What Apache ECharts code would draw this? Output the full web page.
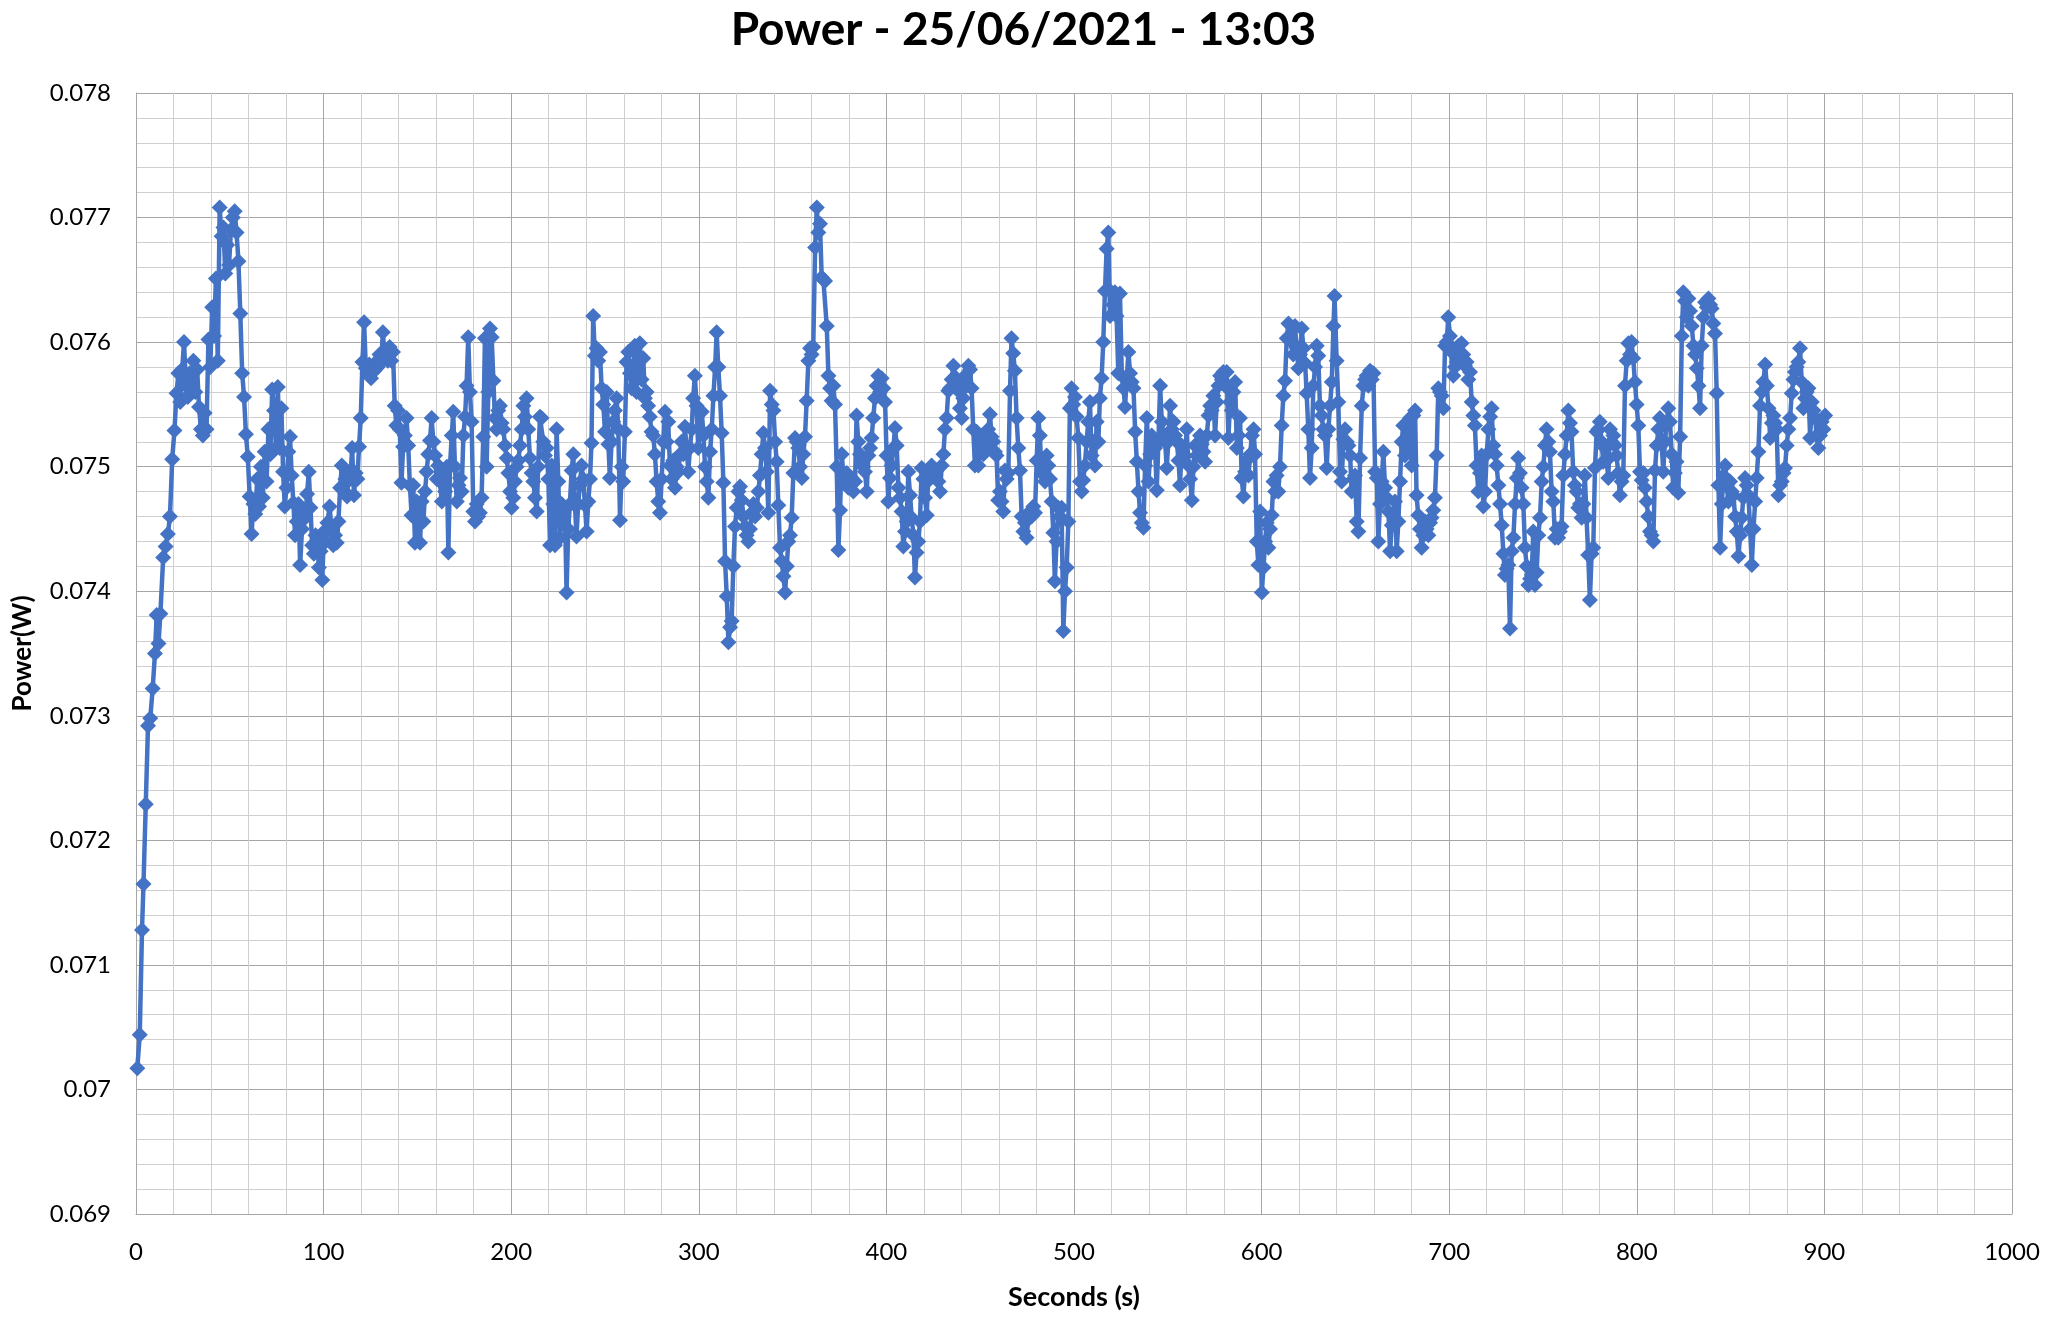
<!DOCTYPE html>
<html>
<head>
<meta charset="utf-8">
<title>Power - 25/06/2021 - 13:03</title>
<script src="https://cdn.jsdelivr.net/npm/echarts@6/dist/echarts.min.js"></script>
<style>
  html, body { margin: 0; padding: 0; background: #fff; }
  #chart { width: 2047px; height: 1318px; }
</style>
</head>
<body>
<div id="chart"></div>
<script>
const chartTitle = 'Power - 25/06/2021 - 13:03';
const xAxisName = 'Seconds (s)';
const yAxisName = 'Power(W)';
const xTicks = [0, 100, 200, 300, 400, 500, 600, 700, 800, 900, 1000];
const yTicks = [0.069, 0.070, 0.071, 0.072, 0.073, 0.074, 0.075, 0.076, 0.077, 0.078];

// [seconds, power in W]
const readings = [
  [0.7,0.07017],[2.0,0.07044],[3.2,0.07128],[4.0,0.07165],[5.2,0.07229],[6.4,0.07292],[7.6,0.07298],[8.9,0.07322],[10.1,0.07350],[11.0,0.07381],
  [12.0,0.07358],[13.0,0.07382],[14.5,0.07427],[15.8,0.07436],[17.0,0.07446],[18.1,0.07460],[19.3,0.07506],[20.5,0.07529],[21.6,0.07559],[22.6,0.07575],
  [23.6,0.07552],[24.6,0.07578],[25.6,0.07600],[26.6,0.07565],[27.6,0.07556],[28.6,0.07575],[29.6,0.07562],[30.6,0.07585],[31.6,0.07560],[32.6,0.07578],
  [33.6,0.07548],[34.6,0.07530],[35.6,0.07525],[36.6,0.07543],[37.6,0.07530],[38.6,0.07602],[39.6,0.07580],[40.6,0.07628],[41.6,0.07605],[42.6,0.07651],
  [43.6,0.07585],[44.6,0.07708],[45.6,0.07685],[46.6,0.07692],[47.6,0.07655],[48.6,0.07678],[49.6,0.07662],[50.6,0.07690],[51.6,0.07700],[52.6,0.07705],
  [53.6,0.07688],[54.6,0.07665],[55.6,0.07623],[56.6,0.07575],[57.6,0.07556],[58.6,0.07526],[59.6,0.07508],[60.6,0.07476],[61.6,0.07446],[62.6,0.07470],
  [63.6,0.07462],[64.6,0.07490],[65.6,0.07468],[66.6,0.07500],[67.6,0.07475],[68.6,0.07512],[69.6,0.07488],[70.6,0.07530],[71.6,0.07510],[72.6,0.07562],
  [73.6,0.07545],[74.6,0.07515],[75.6,0.07564],[76.6,0.07515],[77.5,0.07547],[78.4,0.07496],[79.3,0.07468],[80.2,0.07483],[81.2,0.07512],[82.1,0.07524],
  [83.0,0.07493],[83.9,0.07471],[84.8,0.07445],[85.7,0.07456],[86.6,0.07470],[87.5,0.07421],[88.5,0.07450],[89.4,0.07462],[90.3,0.07459],[91.2,0.07478],
  [92.1,0.07496],[93.0,0.07467],[93.9,0.07437],[94.8,0.07430],[95.7,0.07445],[96.6,0.07440],[97.5,0.07419],[98.4,0.07432],[99.3,0.07409],[100.2,0.07448],
  [101.1,0.07440],[102.0,0.07455],[103.2,0.07468],[104.2,0.07450],[105.1,0.07437],[106.1,0.07445],[107.0,0.07439],[107.9,0.07456],[108.8,0.07483],[109.7,0.07501],
  [110.6,0.07481],[111.6,0.07490],[112.5,0.07476],[113.4,0.07495],[114.3,0.07490],[115.2,0.07515],[116.2,0.07477],[117.1,0.07495],[118.0,0.07490],[118.9,0.07516],
  [119.8,0.07539],[120.7,0.07584],[121.6,0.07616],[122.5,0.07579],[123.4,0.07575],[124.3,0.07582],[125.3,0.07571],[126.2,0.07578],[127.1,0.07577],[128.0,0.07584],
  [128.9,0.07580],[129.8,0.07590],[130.7,0.07584],[131.6,0.07608],[132.5,0.07589],[133.4,0.07592],[134.3,0.07585],[135.2,0.07596],[136.1,0.07585],[137.0,0.07592],
  [137.9,0.07549],[138.8,0.07533],[139.7,0.07545],[140.6,0.07530],[141.5,0.07487],[142.4,0.07516],[143.3,0.07525],[144.2,0.07539],[145.1,0.07517],[146.0,0.07485],
  [146.9,0.07461],[147.8,0.07485],[148.7,0.07439],[149.6,0.07472],[150.5,0.07456],[151.4,0.07439],[152.3,0.07472],[153.2,0.07456],[154.1,0.07480],[154.9,0.07496],
  [155.8,0.07510],[156.7,0.07521],[157.6,0.07539],[158.5,0.07520],[159.4,0.07509],[160.3,0.07490],[161.1,0.07501],[162.0,0.07488],[163.0,0.07472],[163.9,0.07493],
  [164.8,0.07480],[165.7,0.07500],[166.5,0.07431],[167.4,0.07501],[168.3,0.07525],[169.1,0.07544],[170.0,0.07500],[171.0,0.07472],[171.9,0.07485],[172.7,0.07491],
  [173.6,0.07480],[174.5,0.07525],[175.4,0.07540],[176.2,0.07565],[177.1,0.07604],[178.0,0.07560],[178.9,0.07536],[179.8,0.07464],[180.7,0.07456],[181.6,0.07470],
  [182.4,0.07460],[183.3,0.07463],[184.2,0.07475],[185.1,0.07524],[186.0,0.07603],[186.9,0.07500],[187.8,0.07560],[188.7,0.07611],[189.6,0.07604],[190.5,0.07569],
  [191.3,0.07539],[192.2,0.07530],[193.1,0.07545],[194.0,0.07549],[194.9,0.07535],[195.8,0.07530],[196.7,0.07517],[197.6,0.07507],[198.5,0.07495],[199.4,0.07480],
  [200.2,0.07467],[201.1,0.07475],[202.0,0.07488],[202.9,0.07500],[203.8,0.07505],[204.7,0.07517],[205.6,0.07530],[206.5,0.07549],[207.3,0.07540],[208.2,0.07555],
  [209.1,0.07530],[210.0,0.07507],[210.9,0.07495],[211.8,0.07488],[212.7,0.07475],[213.6,0.07464],[214.4,0.07500],[215.3,0.07540],[216.2,0.07539],[217.1,0.07520],
  [218.0,0.07509],[218.9,0.07515],[219.8,0.07490],[220.7,0.07437],[221.6,0.07501],[222.4,0.07470],[223.3,0.07437],[224.2,0.07530],[225.1,0.07488],[226.0,0.07443],
  [226.9,0.07470],[227.8,0.07455],[228.6,0.07467],[229.5,0.07399],[230.4,0.07450],[231.3,0.07470],[232.2,0.07497],[233.1,0.07510],[234.0,0.07469],[234.8,0.07444],
  [235.7,0.07470],[236.6,0.07485],[237.5,0.07501],[238.4,0.07490],[239.3,0.07469],[240.2,0.07448],[241.1,0.07472],[242.0,0.07490],[242.8,0.07519],[243.7,0.07621],
  [244.6,0.07589],[245.5,0.07595],[246.4,0.07585],[247.3,0.07592],[248.2,0.07563],[249.1,0.07550],[250.0,0.07528],[250.9,0.07560],[251.8,0.07518],[252.6,0.07491],
  [253.5,0.07520],[254.4,0.07536],[255.3,0.07545],[256.2,0.07555],[257.1,0.07530],[258.0,0.07457],[258.9,0.07500],[259.7,0.07488],[260.6,0.07528],[261.5,0.07584],
  [262.4,0.07592],[263.3,0.07575],[264.2,0.07563],[265.0,0.07580],[265.9,0.07597],[266.8,0.07560],[267.7,0.07589],[268.6,0.07599],[269.5,0.07570],[270.4,0.07587],
  [271.3,0.07555],[272.2,0.07560],[273.0,0.07549],[273.9,0.07540],[274.8,0.07528],[275.7,0.07525],[276.6,0.07510],[277.5,0.07488],[278.4,0.07472],[279.3,0.07463],
  [280.2,0.07490],[281.1,0.07520],[282.0,0.07544],[282.9,0.07520],[283.7,0.07536],[284.6,0.07501],[285.5,0.07490],[286.4,0.07505],[287.3,0.07483],[288.2,0.07500],
  [289.1,0.07496],[290.0,0.07510],[290.8,0.07520],[291.7,0.07510],[292.6,0.07532],[293.5,0.07515],[294.4,0.07496],[295.3,0.07515],[296.2,0.07530],[297.0,0.07555],
  [297.9,0.07573],[298.8,0.07549],[299.7,0.07515],[300.6,0.07530],[301.6,0.07544],[302.5,0.07525],[303.3,0.07500],[304.2,0.07488],[305.1,0.07475],[306.0,0.07512],
  [306.9,0.07530],[307.8,0.07557],[308.7,0.07580],[309.5,0.07608],[310.4,0.07580],[311.3,0.07557],[312.2,0.07527],[313.1,0.07487],[314.0,0.07424],[314.9,0.07396],
  [315.8,0.07359],[316.7,0.07371],[317.5,0.07376],[318.4,0.07420],[319.3,0.07452],[320.2,0.07467],[321.1,0.07480],[322.0,0.07484],[322.9,0.07473],[323.8,0.07460],
  [324.7,0.07452],[325.5,0.07445],[326.4,0.07440],[327.3,0.07450],[328.2,0.07463],[329.1,0.07470],[330.0,0.07460],[330.9,0.07467],[331.8,0.07480],[332.6,0.07493],
  [333.5,0.07510],[334.4,0.07527],[335.3,0.07515],[336.2,0.07496],[337.1,0.07463],[338.0,0.07561],[338.9,0.07550],[339.8,0.07545],[340.7,0.07520],[341.5,0.07504],
  [342.4,0.07469],[343.3,0.07435],[344.2,0.07424],[345.1,0.07412],[346.0,0.07399],[346.9,0.07420],[347.7,0.07440],[348.6,0.07445],[349.5,0.07459],[350.4,0.07495],
  [351.3,0.07523],[352.2,0.07520],[353.0,0.07515],[354.0,0.07500],[354.9,0.07491],[355.7,0.07510],[356.6,0.07524],[357.5,0.07553],[358.4,0.07585],[359.3,0.07595],
  [360.1,0.07590],[361.0,0.07596],[362.0,0.07676],[362.9,0.07708],[363.7,0.07688],[364.6,0.07695],[365.5,0.07652],[366.4,0.07650],[367.3,0.07649],[368.2,0.07613],
  [369.1,0.07573],[370.0,0.07563],[370.8,0.07553],[371.7,0.07565],[372.6,0.07550],[373.5,0.07500],[374.4,0.07433],[375.3,0.07465],[376.2,0.07510],[377.1,0.07493],
  [377.9,0.07488],[378.8,0.07495],[379.7,0.07483],[380.6,0.07490],[381.5,0.07491],[382.4,0.07480],[383.3,0.07488],[384.1,0.07541],[385.0,0.07520],[385.9,0.07510],
  [386.8,0.07503],[387.7,0.07500],[388.6,0.07496],[389.5,0.07480],[390.4,0.07509],[391.3,0.07515],[392.1,0.07523],[393.0,0.07539],[393.9,0.07555],[394.8,0.07565],
  [395.7,0.07573],[396.6,0.07560],[397.5,0.07571],[398.4,0.07563],[399.3,0.07552],[400.1,0.07509],[401.0,0.07472],[401.9,0.07491],[402.8,0.07501],[403.7,0.07515],
  [404.6,0.07531],[405.5,0.07517],[406.4,0.07483],[407.3,0.07475],[408.1,0.07464],[409.0,0.07436],[409.9,0.07448],[410.8,0.07456],[411.7,0.07496],[412.6,0.07477],
  [413.5,0.07459],[414.4,0.07445],[415.2,0.07411],[416.1,0.07431],[417.0,0.07440],[417.9,0.07456],[418.8,0.07499],[419.7,0.07490],[420.6,0.07475],[421.5,0.07461],
  [422.4,0.07496],[423.3,0.07490],[424.1,0.07501],[425.0,0.07495],[425.9,0.07493],[426.8,0.07497],[427.7,0.07488],[428.6,0.07480],[429.5,0.07501],[430.4,0.07510],
  [431.2,0.07530],[432.1,0.07539],[433.0,0.07561],[433.9,0.07563],[434.8,0.07570],[435.7,0.07581],[436.6,0.07572],[437.5,0.07568],[438.3,0.07561],[439.2,0.07547],
  [440.1,0.07539],[441.0,0.07555],[441.9,0.07573],[442.8,0.07565],[443.7,0.07581],[444.6,0.07578],[445.4,0.07563],[446.3,0.07530],[447.2,0.07501],[448.1,0.07528],
  [449.0,0.07501],[449.9,0.07515],[450.8,0.07520],[451.7,0.07510],[452.5,0.07515],[453.4,0.07525],[454.3,0.07530],[455.2,0.07542],[456.1,0.07524],[457.0,0.07520],
  [457.9,0.07512],[458.7,0.07509],[459.6,0.07473],[460.5,0.07480],[461.4,0.07472],[462.3,0.07464],[463.2,0.07497],[464.1,0.07490],[465.0,0.07495],[465.9,0.07561],
  [466.7,0.07603],[467.6,0.07591],[468.5,0.07577],[469.4,0.07539],[470.3,0.07515],[471.2,0.07497],[472.1,0.07460],[473.0,0.07448],[473.8,0.07455],[474.7,0.07443],
  [475.6,0.07458],[476.5,0.07464],[477.4,0.07460],[478.3,0.07468],[479.2,0.07463],[480.1,0.07505],[481.0,0.07539],[481.8,0.07525],[482.7,0.07495],[483.6,0.07500],
  [484.5,0.07488],[485.4,0.07509],[486.3,0.07501],[487.2,0.07490],[488.1,0.07472],[489.0,0.07447],[489.8,0.07408],[490.7,0.07440],[491.6,0.07467],[492.5,0.07460],
  [493.4,0.07467],[494.3,0.07368],[495.2,0.07400],[496.1,0.07419],[497.0,0.07456],[497.8,0.07547],[498.7,0.07563],[499.6,0.07550],[500.5,0.07556],[501.4,0.07540],
  [502.3,0.07523],[503.2,0.07488],[504.1,0.07480],[504.9,0.07489],[505.8,0.07501],[506.7,0.07520],[507.6,0.07536],[508.5,0.07552],[509.4,0.07509],[510.3,0.07520],
  [511.2,0.07501],[512.1,0.07536],[513.0,0.07520],[513.8,0.07555],[514.7,0.07571],[515.6,0.07600],[516.5,0.07641],[517.4,0.07675],[518.3,0.07688],[519.2,0.07621],
  [520.0,0.07640],[520.9,0.07630],[521.8,0.07640],[522.7,0.07621],[523.6,0.07575],[524.5,0.07639],[525.5,0.07573],[526.4,0.07563],[527.2,0.07548],[528.1,0.07570],
  [529.0,0.07592],[529.9,0.07575],[530.8,0.07568],[531.7,0.07563],[532.6,0.07528],[533.5,0.07504],[534.4,0.07480],[535.2,0.07463],[536.1,0.07455],[537.0,0.07451],
  [537.9,0.07501],[538.8,0.07539],[539.7,0.07488],[540.6,0.07510],[541.4,0.07525],[542.3,0.07520],[543.2,0.07515],[544.1,0.07481],[545.0,0.07520],[545.9,0.07565],
  [546.8,0.07536],[547.7,0.07525],[548.6,0.07520],[549.4,0.07499],[550.3,0.07520],[551.2,0.07549],[552.1,0.07530],[553.0,0.07536],[553.9,0.07525],[554.8,0.07520],
  [555.7,0.07505],[556.5,0.07485],[557.4,0.07517],[558.3,0.07505],[559.2,0.07509],[560.1,0.07530],[561.0,0.07501],[561.9,0.07490],[562.8,0.07473],[563.7,0.07500],
  [564.5,0.07517],[565.4,0.07509],[566.3,0.07515],[567.2,0.07525],[568.1,0.07518],[569.0,0.07512],[569.9,0.07504],[570.8,0.07525],[571.7,0.07541],[572.6,0.07549],
  [573.4,0.07545],[574.3,0.07557],[575.2,0.07525],[576.1,0.07552],[577.0,0.07565],[577.9,0.07573],[578.8,0.07570],[579.6,0.07576],[580.5,0.07565],[581.4,0.07576],
  [582.3,0.07523],[583.2,0.07552],[584.1,0.07545],[585.0,0.07560],[585.9,0.07568],[586.8,0.07515],[587.7,0.07525],[588.5,0.07539],[589.4,0.07491],[590.3,0.07476],
  [591.2,0.07496],[592.1,0.07505],[593.0,0.07493],[593.9,0.07510],[594.8,0.07525],[595.7,0.07530],[596.5,0.07510],[597.4,0.07440],[598.3,0.07421],[599.2,0.07464],
  [600.1,0.07399],[601.0,0.07419],[601.9,0.07440],[602.7,0.07455],[603.6,0.07435],[604.5,0.07450],[605.4,0.07461],[606.3,0.07488],[607.2,0.07480],[608.0,0.07493],
  [608.9,0.07480],[609.8,0.07500],[610.7,0.07533],[611.6,0.07557],[612.5,0.07569],[613.4,0.07603],[614.3,0.07615],[615.2,0.07605],[616.0,0.07600],[616.9,0.07590],
  [617.8,0.07613],[618.7,0.07595],[619.6,0.07579],[620.5,0.07590],[621.4,0.07611],[622.3,0.07595],[623.2,0.07583],[624.0,0.07559],[624.9,0.07530],[625.8,0.07491],
  [626.7,0.07515],[627.6,0.07565],[628.5,0.07580],[629.4,0.07597],[630.2,0.07589],[631.1,0.07549],[632.0,0.07541],[632.9,0.07530],[633.8,0.07525],[634.7,0.07499],
  [635.6,0.07530],[636.5,0.07549],[637.4,0.07568],[638.3,0.07613],[638.9,0.07637],[640.0,0.07585],[640.9,0.07552],[641.8,0.07496],[642.7,0.07488],[643.6,0.07522],
  [644.5,0.07530],[645.4,0.07520],[646.3,0.07517],[647.2,0.07509],[648.0,0.07480],[648.9,0.07490],[649.8,0.07493],[650.7,0.07456],[651.6,0.07448],[652.5,0.07507],
  [653.4,0.07549],[654.3,0.07565],[655.2,0.07570],[656.0,0.07573],[656.9,0.07565],[657.8,0.07577],[658.7,0.07570],[659.6,0.07575],[660.5,0.07496],[661.4,0.07491],
  [662.2,0.07440],[663.1,0.07470],[664.0,0.07488],[664.9,0.07512],[665.8,0.07483],[666.7,0.07475],[667.6,0.07464],[668.5,0.07432],[669.4,0.07453],[670.2,0.07460],
  [671.1,0.07472],[672.0,0.07432],[672.9,0.07456],[673.8,0.07488],[674.7,0.07520],[675.5,0.07533],[676.4,0.07509],[677.3,0.07515],[678.2,0.07525],[679.1,0.07539],
  [680.0,0.07501],[680.9,0.07541],[681.8,0.07545],[682.6,0.07477],[683.5,0.07461],[684.4,0.07450],[685.3,0.07435],[686.2,0.07445],[687.1,0.07456],[688.0,0.07450],
  [688.9,0.07445],[689.8,0.07455],[690.6,0.07459],[691.5,0.07465],[692.4,0.07475],[693.3,0.07509],[694.2,0.07563],[695.1,0.07560],[696.0,0.07557],[696.9,0.07547],
  [697.8,0.07597],[698.7,0.07600],[699.5,0.07620],[700.4,0.07605],[701.3,0.07592],[702.2,0.07573],[703.1,0.07580],[704.0,0.07584],[704.9,0.07597],[705.8,0.07585],
  [706.6,0.07599],[707.5,0.07590],[708.4,0.07581],[709.3,0.07584],[710.2,0.07570],[711.1,0.07576],[712.0,0.07552],[712.9,0.07541],[713.7,0.07533],[714.6,0.07501],
  [715.5,0.07480],[716.4,0.07495],[717.3,0.07509],[718.2,0.07468],[719.1,0.07480],[720.0,0.07510],[720.9,0.07530],[721.8,0.07540],[722.6,0.07547],[723.5,0.07517],
  [724.4,0.07510],[725.3,0.07501],[726.2,0.07485],[727.1,0.07470],[728.0,0.07453],[728.9,0.07430],[729.7,0.07413],[730.6,0.07418],[731.5,0.07421],[732.4,0.07370],
  [733.3,0.07432],[734.2,0.07443],[735.1,0.07470],[736.0,0.07491],[736.8,0.07507],[737.7,0.07495],[738.6,0.07483],[739.5,0.07470],[740.4,0.07435],[741.3,0.07420],
  [742.2,0.07405],[743.1,0.07410],[744.0,0.07413],[744.8,0.07448],[745.7,0.07405],[746.6,0.07415],[747.5,0.07445],[748.4,0.07459],[749.3,0.07488],[750.2,0.07500],
  [751.0,0.07517],[751.9,0.07530],[752.8,0.07520],[753.7,0.07512],[754.6,0.07480],[755.5,0.07472],[756.4,0.07443],[757.3,0.07450],[758.1,0.07443],[759.0,0.07448],
  [759.9,0.07452],[760.8,0.07493],[761.7,0.07510],[762.6,0.07525],[763.5,0.07545],[764.4,0.07535],[765.2,0.07528],[766.1,0.07496],[767.0,0.07485],[767.9,0.07480],
  [768.8,0.07467],[769.7,0.07470],[770.6,0.07459],[771.5,0.07470],[772.3,0.07493],[773.2,0.07459],[774.1,0.07429],[775.0,0.07393],[775.9,0.07430],[776.8,0.07435],
  [777.7,0.07499],[778.6,0.07528],[779.5,0.07530],[780.3,0.07536],[781.2,0.07520],[782.1,0.07504],[783.0,0.07515],[783.9,0.07505],[784.8,0.07491],[785.7,0.07530],
  [786.6,0.07520],[787.5,0.07525],[788.4,0.07517],[789.2,0.07509],[790.1,0.07495],[791.0,0.07477],[791.9,0.07488],[792.8,0.07493],[793.7,0.07565],[794.6,0.07585],
  [795.5,0.07599],[796.4,0.07590],[797.2,0.07600],[798.1,0.07587],[799.0,0.07568],[799.9,0.07550],[800.8,0.07533],[801.7,0.07496],[802.6,0.07489],[803.5,0.07495],
  [804.3,0.07483],[805.2,0.07472],[806.1,0.07460],[807.0,0.07448],[807.9,0.07445],[808.8,0.07440],[809.7,0.07497],[810.6,0.07517],[811.5,0.07530],[812.3,0.07539],
  [813.2,0.07520],[814.1,0.07496],[815.0,0.07520],[815.9,0.07535],[816.8,0.07547],[817.7,0.07536],[818.6,0.07510],[819.4,0.07483],[820.3,0.07495],[821.2,0.07504],
  [822.1,0.07479],[823.1,0.07524],[824.0,0.07605],[824.8,0.07640],[825.7,0.07633],[826.6,0.07620],[827.5,0.07635],[828.4,0.07625],[829.3,0.07613],[830.2,0.07597],
  [831.1,0.07590],[832.0,0.07579],[832.9,0.07565],[833.7,0.07547],[834.6,0.07597],[835.5,0.07620],[836.4,0.07632],[837.3,0.07628],[838.2,0.07635],[839.1,0.07630],
  [839.9,0.07627],[840.8,0.07615],[841.7,0.07607],[842.6,0.07559],[843.5,0.07485],[844.4,0.07435],[845.3,0.07470],[846.2,0.07493],[847.1,0.07501],[848.0,0.07485],
  [848.8,0.07472],[849.7,0.07488],[850.6,0.07480],[851.5,0.07477],[852.4,0.07460],[853.3,0.07448],[854.2,0.07428],[855.1,0.07445],[855.9,0.07459],[856.8,0.07475],
  [857.7,0.07491],[858.6,0.07485],[859.5,0.07477],[860.4,0.07450],[861.3,0.07421],[862.2,0.07450],[863.1,0.07472],[863.9,0.07491],[864.8,0.07512],[865.7,0.07549],
  [866.6,0.07560],[867.5,0.07568],[868.4,0.07582],[869.3,0.07565],[870.2,0.07547],[871.1,0.07523],[872.0,0.07535],[872.8,0.07541],[873.7,0.07535],[874.6,0.07530],
  [875.5,0.07477],[876.4,0.07485],[877.3,0.07488],[878.2,0.07495],[879.0,0.07499],[879.9,0.07517],[880.8,0.07530],[881.7,0.07539],[882.6,0.07559],[883.5,0.07570],
  [884.3,0.07576],[885.2,0.07580],[886.1,0.07584],[887.0,0.07595],[887.9,0.07568],[888.8,0.07547],[889.7,0.07555],[890.6,0.07560],[891.5,0.07563],[892.4,0.07523],
  [893.3,0.07552],[894.2,0.07545],[895.0,0.07539],[895.9,0.07525],[896.8,0.07515],[897.7,0.07525],[898.6,0.07536],[899.5,0.07530],[900.4,0.07541]
];

const FONT = 'Lato, "Open Sans", sans-serif';
const chart = echarts.init(document.getElementById('chart'));

const option = {
  animation: false,
  backgroundColor: '#ffffff',
  title: {
    text: chartTitle,
    left: 'center',
    top: 2,
    textStyle: { fontFamily: FONT, fontSize: 46, fontWeight: 'bold', color: '#000000' }
  },
  grid: { left: 136, right: 35, top: 93, bottom: 104, containLabel: false, outerBoundsMode: 'none' },
  xAxis: {
    type: 'value',
    min: xTicks[0],
    max: xTicks[xTicks.length - 1],
    interval: xTicks[1] - xTicks[0],
    name: xAxisName,
    nameLocation: 'middle',
    nameGap: 70,
    nameTextStyle: { fontFamily: FONT, fontSize: 27, fontWeight: 'bold', color: '#000000' },
    axisLine: { show: true, lineStyle: { color: '#a6a6a6', width: 1 } },
    axisTick: { show: false },
    axisLabel: { fontFamily: FONT, fontSize: 24, color: '#000000', margin: 26, formatter: v => String(v) },
    splitLine: { show: true, lineStyle: { color: '#a6a6a6', width: 1 } },
    minorTick: { show: false, splitNumber: 5 },
    minorSplitLine: { show: true, lineStyle: { color: '#cfcfcf', width: 1 } }
  },
  yAxis: {
    type: 'value',
    min: yTicks[0],
    max: yTicks[yTicks.length - 1],
    interval: 0.001,
    name: yAxisName,
    nameLocation: 'middle',
    nameGap: 100,
    nameTextStyle: { fontFamily: FONT, fontSize: 26, fontWeight: 'bold', color: '#000000' },
    axisLine: { show: true, lineStyle: { color: '#a6a6a6', width: 1 } },
    axisTick: { show: false },
    axisLabel: { fontFamily: FONT, fontSize: 24, color: '#000000', margin: 25 },
    splitLine: { show: true, lineStyle: { color: '#a6a6a6', width: 1 } },
    minorTick: { show: false, splitNumber: 5 },
    minorSplitLine: { show: true, lineStyle: { color: '#cfcfcf', width: 1 } }
  },
  series: [{
    name: yAxisName,
    type: 'line',
    data: readings,
    showAllSymbol: true,
    symbol: 'diamond',
    symbolSize: 16,
    sampling: null,
    lineStyle: { color: '#4472c4', width: 4.5 },
    itemStyle: { color: '#4472c4', borderWidth: 0 },
    emphasis: { disabled: true }
  }]
};

chart.setOption(option);
</script>
</body>
</html>
